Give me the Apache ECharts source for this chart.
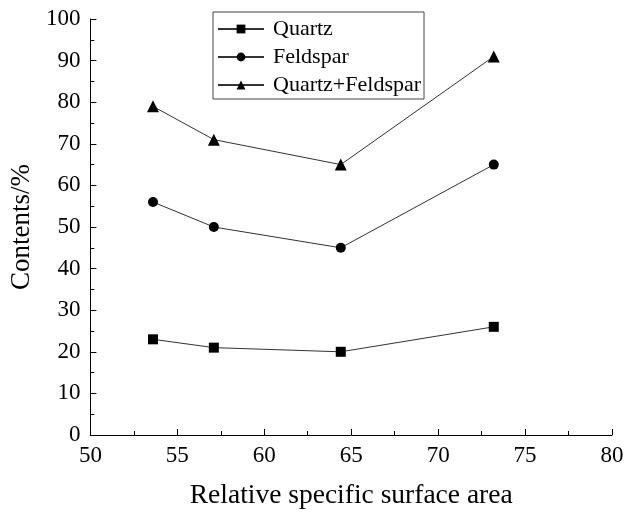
<!DOCTYPE html>
<html>
<head>
<meta charset="utf-8">
<script src="https://cdn.jsdelivr.net/npm/echarts@6/dist/echarts.min.js"></script>
<style>
  html, body { margin: 0; padding: 0; background: #fff; }
  #chart { width: 634px; height: 515px; }
</style>
</head>
<body>
<div id="chart"></div>
<script>
const surfaceArea = [53.6, 57.1, 64.4, 73.2];
const quartz = [23, 21, 20, 26];
const feldspar = [56, 50, 45, 65];
const quartzFeldspar = [79, 71, 65, 91];

const myChart = echarts.init(document.getElementById("chart"));
const font = "Liberation Serif";

function pairs(ys) {
  return surfaceArea.map((x, i) => [x, ys[i]]);
}

function makeSeries(name, ys, symbol, size) {
  return {
    name: name,
    type: "line",
    data: pairs(ys),
    symbol: symbol,
    symbolSize: size,
    lineStyle: { color: "#333", width: 1 },
    itemStyle: { color: "#000" },
  };
}

var option = {
  animation: false,
  backgroundColor: "#fff",
  legend: {
    orient: "vertical",
    left: 213,
    top: 12,
    borderColor: "#444",
    borderWidth: 1,
    borderRadius: 0,
    padding: [6, 3, 3, 4],
    itemGap: 6,
    itemWidth: 46,
    itemHeight: 11,
    textStyle: { fontFamily: font, fontSize: 22, color: "#000", padding: [0, 0, 0, 4] },
  },
  grid: { left: 90, right: 22, top: 19, bottom: 77 },
  xAxis: {
    type: "value",
    min: 50,
    max: 80,
    interval: 5,
    name: "Relative specific surface area",
    nameLocation: "middle",
    nameGap: 47,
    nameTextStyle: { fontFamily: font, fontSize: 27.5, color: "#000" },
    axisLine: { lineStyle: { color: "#000", width: 1 } },
    axisTick: { inside: true, length: 6, lineStyle: { color: "#000" } },
    minorTick: { show: true, splitNumber: 2, length: 4, lineStyle: { color: "#000" } },
    axisLabel: { fontFamily: font, fontSize: 23, color: "#000", margin: 9 },
    splitLine: { show: false },
  },
  yAxis: {
    type: "value",
    min: 0,
    max: 100,
    interval: 10,
    name: "Contents/%",
    nameLocation: "middle",
    nameGap: 52,
    nameTextStyle: { fontFamily: font, fontSize: 27, color: "#000" },
    axisLine: { show: true, lineStyle: { color: "#000", width: 1 } },
    axisTick: { show: true, inside: true, length: 6, lineStyle: { color: "#000" } },
    minorTick: { show: true, splitNumber: 2, length: 4, lineStyle: { color: "#000" } },
    axisLabel: { fontFamily: font, fontSize: 23, color: "#000", margin: 10 },
    splitLine: { show: false },
  },
  series: [
    makeSeries("Quartz", quartz, "rect", 10),
    makeSeries("Feldspar", feldspar, "circle", 10),
    makeSeries("Quartz+Feldspar", quartzFeldspar, "triangle", 12),
  ],
};

myChart.setOption(option);
</script>
</body>
</html>
